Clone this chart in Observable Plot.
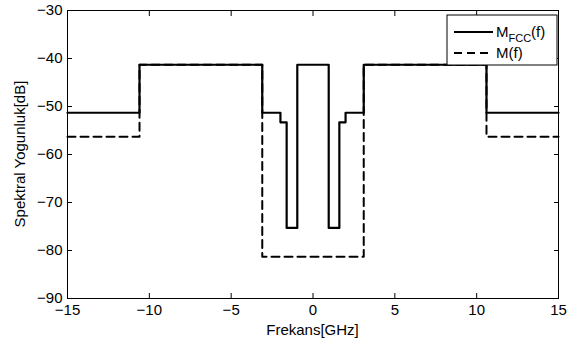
<!DOCTYPE html>
<html>
<head>
<meta charset="utf-8">
<script src="https://cdn.jsdelivr.net/npm/d3@7"></script>
<script src="https://cdn.jsdelivr.net/npm/@observablehq/plot@0.6"></script>
<style>
  html, body { margin: 0; padding: 0; background: #fff; }
  #chart { position: relative; width: 576px; height: 341px; }
</style>
</head>
<body>
<div id="chart"></div>
<script>
// Breakpoints (GHz) and levels (dB), step-after
const fccFreq  = [-15, -10.6, -3.1, -1.99, -1.61, -0.96, 0.96, 1.61, 1.99, 3.1, 10.6, 15];
const fccLevel = [-51.3, -41.3, -51.3, -53.3, -75.3, -41.3, -75.3, -53.3, -51.3, -41.3, -51.3, -51.3];
const mFreq    = [-15, -10.6, -3.1, 3.1, 10.6, 15];
const mLevel   = [-56.3, -41.3, -81.3, -41.3, -56.3, -56.3];
const xTicks = [-15, -10, -5, 0, 5, 10, 15];
const yTicks = [-90, -80, -70, -60, -50, -40, -30];
const xLabel = "Frekans[GHz]";
const yLabel = "Spektral Yogunluk[dB]";

const fcc = fccFreq.map((f, i) => ({f, v: fccLevel[i]}));
const m = mFreq.map((f, i) => ({f, v: mLevel[i]}));

const W = 576, H = 341;
const mL = 67, mR = 18, mT = 10, mB = 43;
const font = "'Liberation Sans', Arial, Helvetica, sans-serif";
const fmt = d => d < 0 ? "\u2212" + Math.abs(d) : String(d);

const plot = Plot.plot({
  width: W,
  height: H,
  marginLeft: mL, marginRight: mR, marginTop: mT, marginBottom: mB,
  style: {fontFamily: font, fontSize: "15px", color: "#000", background: "#fff", overflow: "visible"},
  x: {domain: [-15, 15]},
  y: {domain: [-90, -30]},
  marks: [
    Plot.axisX(xTicks, {anchor: "bottom", tickSize: 0, tickPadding: 6, label: null, fontSize: 15, tickFormat: fmt}),
    Plot.axisX(xTicks, {anchor: "bottom", tickSize: -5, tickFormat: () => "", label: null}),
    Plot.axisX(xTicks, {anchor: "top", tickSize: -5, tickFormat: () => "", label: null}),
    Plot.axisY(yTicks, {anchor: "left", tickSize: 0, tickPadding: 5, label: null, fontSize: 15, tickFormat: fmt}),
    Plot.axisY(yTicks, {anchor: "left", tickSize: -5, tickFormat: () => "", label: null}),
    Plot.axisY(yTicks, {anchor: "right", tickSize: -5, tickFormat: () => "", label: null}),
    Plot.line(m, {x: "f", y: "v", curve: "step-after", stroke: "#000", strokeWidth: 2, strokeDasharray: "8,5"}),
    Plot.line(fcc, {x: "f", y: "v", curve: "step-after", stroke: "#000", strokeWidth: 2.2}),
    Plot.frame({stroke: "#000", strokeWidth: 1})
  ]
});

document.getElementById("chart").appendChild(plot);

const svg = d3.select(plot);
const x0 = mL, x1 = W - mR, y0 = mT, y1 = H - mB;

// Axis labels
svg.append("text")
  .attr("x", (x0 + x1) / 2).attr("y", 335)
  .attr("text-anchor", "middle")
  .attr("font-family", font).attr("font-size", 15).attr("fill", "#000")
  .text(xLabel);
svg.append("text")
  .attr("transform", `translate(25,${(y0 + y1) / 2}) rotate(-90)`)
  .attr("text-anchor", "middle")
  .attr("font-family", font).attr("font-size", 15).attr("fill", "#000")
  .text(yLabel);

// Legend
const lg = svg.append("g").attr("transform", "translate(447,15)");
lg.append("rect").attr("width", 110).attr("height", 50)
  .attr("fill", "#fff").attr("stroke", "#000").attr("stroke-width", 1);
lg.append("line").attr("x1", 7).attr("x2", 46).attr("y1", 17).attr("y2", 17)
  .attr("stroke", "#000").attr("stroke-width", 2);
lg.append("line").attr("x1", 7).attr("x2", 46).attr("y1", 38).attr("y2", 38)
  .attr("stroke", "#000").attr("stroke-width", 2).attr("stroke-dasharray", "8,5");
const t1 = lg.append("text").attr("x", 49).attr("y", 22).attr("text-anchor", "start")
  .attr("font-family", font).attr("font-size", 15).attr("fill", "#000");
t1.append("tspan").text("M");
t1.append("tspan").attr("font-size", 11).attr("dy", 5).text("FCC");
t1.append("tspan").attr("dy", -5).text("(f)");
lg.append("text").attr("x", 49).attr("y", 43).attr("text-anchor", "start")
  .attr("font-family", font).attr("font-size", 15).attr("fill", "#000")
  .text("M(f)");
</script>
</body>
</html>
